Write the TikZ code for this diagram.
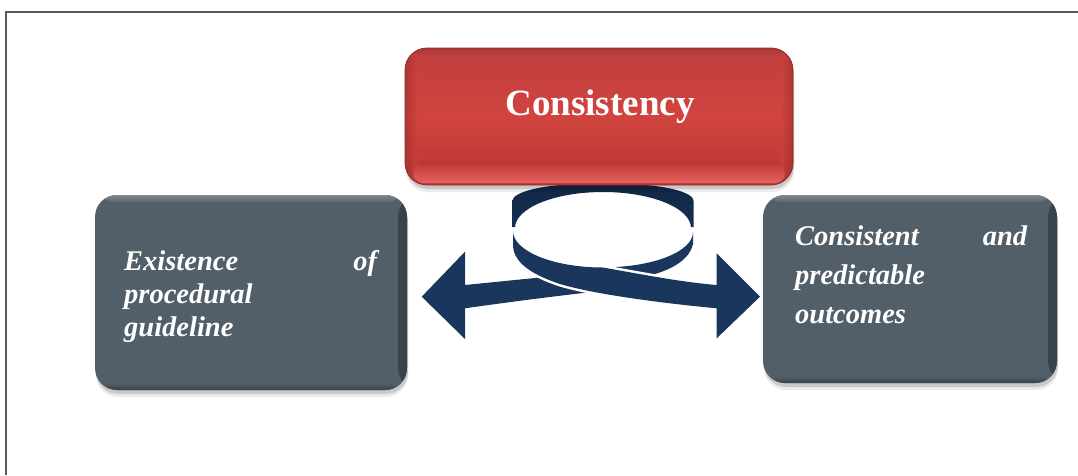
\documentclass[tikz,border=0pt]{standalone}
\usepackage{fontspec}
\setmainfont{Liberation Serif}
\setlength{\parindent}{0pt}
\begin{document}
\begin{tikzpicture}[x=1pt,y=-1pt]
\definecolor{navy}{HTML}{1B365D}
\definecolor{navydark}{HTML}{112745}
\definecolor{slate}{HTML}{535F68}
\definecolor{slatedark}{HTML}{394248}
\definecolor{slatelight}{HTML}{7E898F}
\definecolor{redtop}{HTML}{BF403E}
\definecolor{redmid}{HTML}{D1433F}
\definecolor{redbot}{HTML}{B83633}
\definecolor{redlight}{HTML}{E6625F}
\definecolor{reddark}{HTML}{922B29}
\definecolor{framegray}{HTML}{5A5A5A}
\tikzset{
  boxshadow/.style={
    preaction={fill=black, opacity=0.08, transform canvas={shift={(1pt,-7pt)}}},
    preaction={fill=black, opacity=0.14, transform canvas={shift={(1pt,-4pt)}}}},
  graybox/.style={rounded corners=22pt, fill=slate, boxshadow, inner sep=0pt,
    path picture={
      \shade[left color=slate, right color=slatedark]
        ([xshift=-9pt]path picture bounding box.north east) rectangle (path picture bounding box.south east);
      \shade[top color=slatelight, bottom color=slate]
        (path picture bounding box.north west) rectangle ([yshift=-8pt]path picture bounding box.north east);
      \shade[top color=slate, bottom color=slatedark]
        ([yshift=7pt]path picture bounding box.south west) rectangle (path picture bounding box.south east);
    }},
  redbox/.style={rounded corners=22pt, boxshadow, inner sep=0pt, draw=reddark, line width=0.8pt,
    path picture={
      \shade[top color=redtop, bottom color=redbot, middle color=redmid]
        (path picture bounding box.north west) rectangle (path picture bounding box.south east);
      \shade[top color=redbot, bottom color=redlight, rounded corners=10pt]
        ([xshift=8pt,yshift=24pt]path picture bounding box.south west) rectangle ([xshift=-8pt,yshift=2pt]path picture bounding box.south east);
      \shade[left color=reddark, right color=redmid, opacity=0.5]
        (path picture bounding box.north west) rectangle ([xshift=12pt]path picture bounding box.south west);
      \shade[left color=redmid, right color=reddark, opacity=0.5]
        ([xshift=-12pt]path picture bounding box.north east) rectangle (path picture bounding box.south east);
      \shade[top color=reddark, bottom color=redtop, opacity=0.45]
        (path picture bounding box.north west) rectangle ([yshift=-8pt]path picture bounding box.north east);
    }},
  boxtext/.style={font=\fontsize{28.5}{33.4}\selectfont\bfseries\itshape, text=white, align=left, inner sep=0pt},
  titletext/.style={font=\fontsize{37}{44}\selectfont\bfseries, text=white, inner sep=0pt},
  ribbon/.style={fill=navy},
  ribbonover/.style={fill=navy, preaction={draw=white, line width=5pt, line join=round}}
}
\useasboundingbox (0,0) rectangle (1078,475);
\fill[white] (0,0) rectangle (1078,475);
% frame
\draw[framegray, line width=1.1pt] (6,475) -- (6,12) -- (1078,12);

% gray boxes
\node[graybox, minimum width=312pt, minimum height=195pt] (lbox) at (251,292.5) {};
\node[graybox, minimum width=294pt, minimum height=188pt] (rbox) at (910,289) {};

% loop arrow: back piece
\begin{scope}
  \clip (512.5,227) -- (512.5,201) .. controls (512.5,190) and (553.3,183) .. (603,183)
        .. controls (652.7,183) and (693.5,190) .. (693.5,201) -- (693.5,227) -- cycle;
  \shade[top color=navydark, bottom color=navy, even odd rule]
        (500,178) rectangle (706,280) (603,228) ellipse [x radius=88, y radius=36];
\end{scope}
% under part: left arrow and right piece
\path[ribbon] (421.7,296.7) -- (465,251.7) -- (465,285)
   .. controls (495,282) and (525,279) .. (545,277)
   .. controls (570,274) and (590,270) .. (606,267.3)
   .. controls (652,267) and (693,252) .. (693,232) -- (693,244)
   .. controls (690,258) and (675,268) .. (655,274)
   .. controls (630,281) and (605,289) .. (583,293)
   .. controls (540,298) and (495,304) .. (465,308.3) -- (465,339) -- cycle;
% over part: front ribbon and right arrow
\path[ribbonover] (513,231) -- (513,246)
   .. controls (514,262) and (530,274) .. (560,284)
   .. controls (590,293) and (650,302) .. (716.7,308.3)
   -- (716.7,338.3) -- (760,296.7) -- (716.7,253.3) -- (716.7,285)
   .. controls (680,282) and (640,274) .. (603,267.5)
   .. controls (553,267.5) and (513,251) .. (513,231) -- cycle;

% red box
\node[redbox, minimum width=388pt, minimum height=137pt] (cons) at (599,116.5) {};
\node[titletext, anchor=base] (title) at (600,115) {Consistency};

% texts
\node[boxtext, text width=253pt, anchor=base west] (ltext) at (124,270)
  {Existence\hfill of\\procedural\\guideline};
\node[boxtext, text width=232pt, anchor=base west, font=\fontsize{28.5}{39}\selectfont\bfseries\itshape] (rtext) at (795,245)
  {Consistent\hfill and\\predictable\\outcomes};
\end{tikzpicture}
\end{document}
